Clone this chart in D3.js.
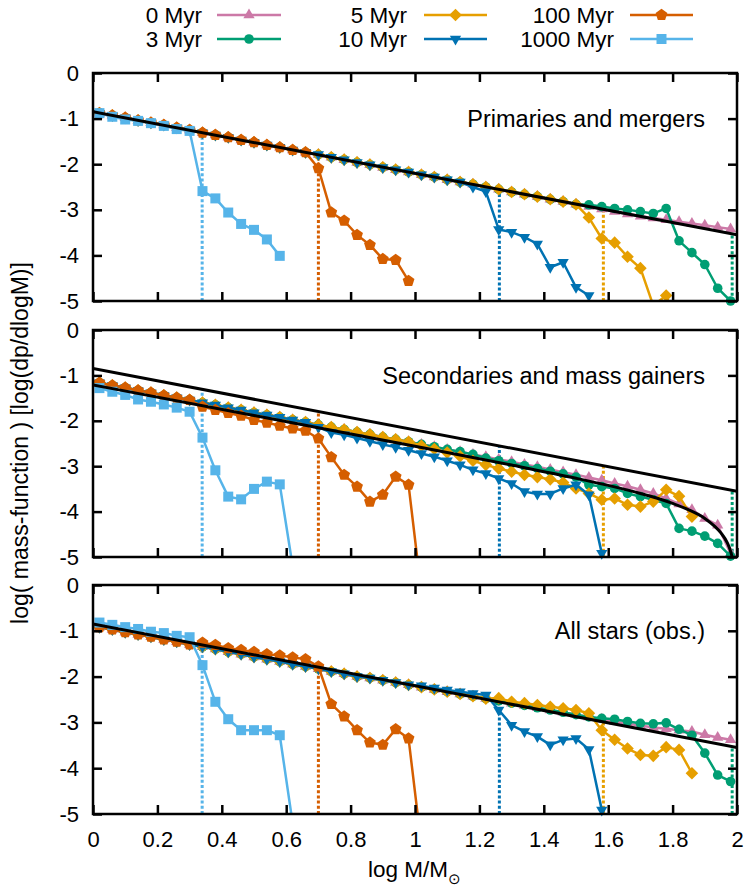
<!DOCTYPE html>
<html><head><meta charset="utf-8">
<script src="https://cdn.jsdelivr.net/npm/d3@7"></script>
<style>body{margin:0;background:#fff} text{font-family:"Liberation Sans",Arial,sans-serif;fill:#000}</style>
</head><body><svg id="c" width="748" height="891"></svg>
<script>
// ---------- data ----------
const logM = [0.02,0.06,0.10,0.14,0.18,0.22,0.26,0.30,0.34,0.38,0.42,0.46,0.50,0.54,0.58,0.62,0.66,0.70,0.74,0.78,0.82,0.86,0.90,0.94,0.98,1.02,1.06,1.10,1.14,1.18,1.22,1.26,1.30,1.34,1.38,1.42,1.46,1.50,1.54,1.58,1.62,1.66,1.70,1.74,1.78,1.82,1.86,1.90,1.94,1.98];
const seriesNames = ["0 Myr","3 Myr","5 Myr","10 Myr","100 Myr","1000 Myr"];

// Primaries and mergers
const prim_0 = [-0.88,-0.93,-0.98,-1.04,-1.09,-1.14,-1.20,-1.25,-1.31,-1.36,-1.41,-1.47,-1.52,-1.58,-1.63,-1.69,-1.74,-1.79,-1.85,-1.90,-1.96,-2.01,-2.07,-2.12,-2.17,-2.23,-2.28,-2.34,-2.39,-2.44,-2.50,-2.55,-2.61,-2.66,-2.71,-2.77,-2.82,-2.88,-2.93,-2.98,-3.04,-3.09,-3.14,-3.18,-3.22,-3.26,-3.30,-3.34,-3.38,-3.42];
const prim_3 = [-0.88,-0.93,-0.98,-1.04,-1.09,-1.14,-1.20,-1.25,-1.31,-1.36,-1.41,-1.47,-1.52,-1.58,-1.63,-1.69,-1.74,-1.79,-1.85,-1.90,-1.96,-2.01,-2.07,-2.12,-2.17,-2.23,-2.28,-2.34,-2.39,-2.44,-2.50,-2.55,-2.61,-2.66,-2.71,-2.77,-2.82,-2.88,-2.89,-2.93,-2.97,-3.00,-3.04,-3.08,-2.97,-3.68,-3.94,-4.20,-4.72,-5.00];
const prim_5 = [-0.88,-0.93,-0.98,-1.04,-1.09,-1.14,-1.20,-1.25,-1.31,-1.36,-1.41,-1.47,-1.52,-1.58,-1.63,-1.69,-1.74,-1.79,-1.85,-1.90,-1.96,-2.01,-2.07,-2.12,-2.17,-2.23,-2.28,-2.34,-2.39,-2.44,-2.50,-2.55,-2.61,-2.66,-2.71,-2.77,-2.82,-2.88,-3.17,-3.63,-3.72,-4.03,-4.28,-5.10,-4.88,-5.60];
const prim_10 = [-0.88,-0.93,-0.98,-1.04,-1.09,-1.14,-1.20,-1.25,-1.31,-1.36,-1.41,-1.47,-1.52,-1.58,-1.63,-1.69,-1.74,-1.79,-1.85,-1.90,-1.96,-2.01,-2.07,-2.12,-2.17,-2.23,-2.28,-2.34,-2.39,-2.50,-2.60,-3.43,-3.49,-3.60,-3.75,-4.26,-4.15,-4.70,-4.88];
const prim_100 = [-0.88,-0.93,-0.98,-1.04,-1.09,-1.14,-1.20,-1.25,-1.31,-1.36,-1.41,-1.47,-1.52,-1.58,-1.63,-1.69,-1.74,-2.09,-3.06,-3.24,-3.55,-3.77,-4.08,-4.10,-4.56];
const prim_1000 = [-0.88,-0.96,-1.02,-1.05,-1.10,-1.16,-1.23,-1.27,-2.59,-2.75,-3.06,-3.31,-3.44,-3.65,-4.01];

// Secondaries and mass gainers
const sec_0 = [-1.16,-1.22,-1.27,-1.33,-1.38,-1.44,-1.49,-1.54,-1.60,-1.65,-1.71,-1.76,-1.82,-1.87,-1.92,-1.98,-2.03,-2.09,-2.14,-2.19,-2.25,-2.30,-2.36,-2.41,-2.46,-2.52,-2.57,-2.63,-2.68,-2.74,-2.79,-2.85,-2.90,-2.96,-3.01,-3.07,-3.13,-3.19,-3.25,-3.31,-3.38,-3.44,-3.52,-3.60,-3.71,-3.83,-3.96,-4.15,-4.30,-4.92];
const sec_3 = [-1.16,-1.22,-1.27,-1.33,-1.38,-1.44,-1.49,-1.54,-1.60,-1.65,-1.71,-1.76,-1.82,-1.87,-1.92,-1.98,-2.03,-2.09,-2.14,-2.19,-2.25,-2.30,-2.36,-2.41,-2.46,-2.52,-2.57,-2.63,-2.68,-2.74,-2.82,-2.88,-2.94,-2.99,-3.05,-3.11,-3.17,-3.24,-3.41,-3.45,-3.49,-3.60,-3.67,-3.74,-3.82,-4.37,-4.43,-4.54,-4.70,-4.98];
const sec_5 = [-1.16,-1.22,-1.27,-1.33,-1.38,-1.44,-1.49,-1.54,-1.60,-1.65,-1.71,-1.76,-1.82,-1.87,-1.92,-1.98,-2.03,-2.09,-2.14,-2.19,-2.25,-2.30,-2.36,-2.41,-2.46,-2.55,-2.62,-2.70,-2.78,-2.88,-2.97,-3.05,-3.12,-3.19,-3.24,-3.29,-3.36,-3.49,-3.60,-3.74,-3.71,-3.85,-3.89,-3.78,-3.52,-3.66,-4.11];
const sec_10 = [-1.16,-1.22,-1.27,-1.33,-1.38,-1.44,-1.49,-1.54,-1.60,-1.65,-1.71,-1.76,-1.82,-1.87,-1.92,-1.98,-2.03,-2.14,-2.26,-2.31,-2.38,-2.45,-2.52,-2.58,-2.65,-2.72,-2.79,-2.88,-2.97,-3.08,-3.16,-3.27,-3.38,-3.56,-3.61,-3.61,-3.49,-3.41,-3.63,-4.92];
const sec_100 = [-1.16,-1.22,-1.27,-1.33,-1.38,-1.44,-1.49,-1.54,-1.69,-1.76,-1.83,-1.89,-1.98,-2.04,-2.11,-2.17,-2.22,-2.39,-2.80,-3.19,-3.45,-3.78,-3.63,-3.23,-3.41,-5.80];
const sec_1000 = [-1.28,-1.36,-1.43,-1.53,-1.58,-1.64,-1.71,-1.80,-2.37,-3.09,-3.67,-3.73,-3.50,-3.34,-3.40,-5.20];

// All stars (obs.)
const all_0 = [-0.92,-0.97,-1.03,-1.08,-1.13,-1.19,-1.24,-1.30,-1.35,-1.40,-1.46,-1.51,-1.57,-1.62,-1.67,-1.73,-1.78,-1.83,-1.89,-1.94,-2.00,-2.03,-2.08,-2.13,-2.18,-2.23,-2.28,-2.33,-2.38,-2.43,-2.48,-2.53,-2.58,-2.63,-2.68,-2.73,-2.78,-2.83,-2.88,-2.93,-2.98,-3.03,-3.07,-3.11,-3.14,-3.17,-3.20,-3.27,-3.33,-3.38];
const all_3 = [-0.92,-0.97,-1.03,-1.08,-1.13,-1.19,-1.24,-1.30,-1.35,-1.40,-1.46,-1.51,-1.57,-1.62,-1.67,-1.73,-1.78,-1.83,-1.89,-1.94,-2.00,-2.03,-2.08,-2.13,-2.18,-2.23,-2.28,-2.33,-2.38,-2.43,-2.48,-2.53,-2.58,-2.63,-2.68,-2.73,-2.78,-2.83,-2.88,-2.91,-2.93,-2.98,-3.02,-3.03,-3.01,-3.15,-3.28,-3.67,-4.15,-4.29];
const all_5 = [-0.92,-0.97,-1.03,-1.08,-1.13,-1.19,-1.24,-1.30,-1.35,-1.40,-1.46,-1.51,-1.57,-1.62,-1.67,-1.73,-1.78,-1.83,-1.89,-1.94,-2.00,-2.03,-2.08,-2.13,-2.18,-2.23,-2.28,-2.33,-2.38,-2.43,-2.48,-2.47,-2.55,-2.58,-2.62,-2.66,-2.69,-2.73,-2.80,-3.17,-3.38,-3.57,-3.71,-3.73,-3.54,-3.60,-4.11];
const all_10 = [-0.92,-0.97,-1.03,-1.08,-1.13,-1.19,-1.24,-1.30,-1.35,-1.40,-1.46,-1.51,-1.57,-1.62,-1.67,-1.73,-1.78,-1.83,-1.89,-1.94,-2.00,-2.03,-2.08,-2.13,-2.18,-2.20,-2.25,-2.29,-2.33,-2.37,-2.40,-2.73,-3.06,-3.20,-3.31,-3.49,-3.38,-3.35,-3.59,-4.91];
const all_100 = [-0.92,-0.97,-1.03,-1.08,-1.13,-1.19,-1.24,-1.30,-1.26,-1.31,-1.38,-1.42,-1.46,-1.51,-1.54,-1.58,-1.62,-1.78,-2.60,-2.87,-3.17,-3.44,-3.49,-3.15,-3.35,-5.70];
const all_1000 = [-0.82,-0.87,-0.92,-0.96,-1.02,-1.05,-1.11,-1.14,-1.75,-2.55,-2.93,-3.17,-3.17,-3.17,-3.28,-5.20];

// reference power law and secondary-star curve
const refLineX = [0, 2];
const refLineY = [-0.85, -3.55];
const secCurveX = [0, 0.5, 1.0, 1.3, 1.5, 1.6, 1.7, 1.75, 1.8, 1.85, 1.9, 1.93, 1.95, 1.97, 1.98, 1.985];
const secCurveY = [-1.21, -1.885, -2.562, -2.975, -3.265, -3.423, -3.60, -3.70, -3.82, -3.96, -4.15, -4.32, -4.47, -4.69, -4.87, -5.0];

// turn-off masses (dotted verticals): series index, logM, top value
const turnSeries = [5, 4, 3, 2, 1];
const turnLogM = [0.339, 0.70, 1.262, 1.585, 1.985];
const turnTop = [-1.31, -1.80, -2.55, -2.99, -3.53];

const xTicks = [0,0.2,0.4,0.6,0.8,1,1.2,1.4,1.6,1.8,2];
const xTickLabels = ["0","0.2","0.4","0.6","0.8","1","1.2","1.4","1.6","1.8","2"];
const yTicks = [0,-1,-2,-3,-4,-5];
const yTickLabels = ["0","-1","-2","-3","-4","-5"];
const panelLabels = ["Primaries and mergers","Secondaries and mass gainers","All stars (obs.)"];

// ---------- styling ----------
const colors = ["#cc79a7","#009e73","#e69f00","#0072b2","#d55e00","#56b4e9"];
const markers = ["triUp","circle","diamond","triDown","pentagon","square"];

function markerPath(type){
  const p = d3.path();
  if(type==="circle"){ p.arc(0,0,4.8,0,2*Math.PI); return p.toString(); }
  let pts;
  if(type==="triUp"){ const r=6.5; pts=[[0,-r],[r*0.866,r*0.5],[-r*0.866,r*0.5]]; }
  else if(type==="triDown"){ const r=6.5; pts=[[0,r],[r*0.866,-r*0.5],[-r*0.866,-r*0.5]]; }
  else if(type==="diamond"){ const r=6.3; pts=[[0,-r],[r,0],[0,r],[-r,0]]; }
  else if(type==="square"){ const r=5; pts=[[-r,-r],[r,-r],[r,r],[-r,r]]; }
  else if(type==="pentagon"){ const r=6.2; pts=d3.range(5).map(i=>{const a=-Math.PI/2+i*2*Math.PI/5;return [r*Math.cos(a),r*Math.sin(a)];}); }
  p.moveTo(pts[0][0],pts[0][1]); for(let i=1;i<pts.length;i++) p.lineTo(pts[i][0],pts[i][1]); p.closePath();
  return p.toString();
}

const svg = d3.select("#c");
const x = d3.scaleLinear().domain([0,2]).range([93,737]);
const FONT = "Liberation Sans, Arial, sans-serif";
const tickFont = "22px", labelFont = "23.5px", legendFont = "22.5px", titleFont = "22.5px";

const panels = [
  {top:73,  bottom:301, data:[prim_0,prim_3,prim_5,prim_10,prim_100,prim_1000], sec:false},
  {top:330, bottom:557, data:[sec_0,sec_3,sec_5,sec_10,sec_100,sec_1000], sec:true},
  {top:585, bottom:814, data:[all_0,all_3,all_5,all_10,all_100,all_1000], sec:false}
];

panels.forEach((P,pi)=>{
  const y = d3.scaleLinear().domain([-5,0]).range([P.bottom,P.top]);
  const g = svg.append("g");
  const cid = "clip"+pi;
  svg.append("defs").append("clipPath").attr("id",cid).append("rect")
    .attr("x",x(0)).attr("y",P.top).attr("width",x(2)-x(0)).attr("height",P.bottom-P.top);

  // dotted turn-off lines
  turnLogM.forEach((t,i)=>{
    g.append("line").attr("x1",x(t)).attr("x2",x(t)).attr("y1",y(-5)).attr("y2",y(turnTop[i]))
      .attr("stroke",colors[turnSeries[i]]).attr("stroke-width",3).attr("stroke-dasharray","3,2.2");
  });

  const line = d3.line().x(d=>x(d[0])).y(d=>y(d[1]));
  P.data.forEach((vals,si)=>{
    const pts = vals.map((v,k)=>[logM[k],v]);
    g.append("path").attr("d",line(pts)).attr("fill","none").attr("stroke",colors[si])
      .attr("stroke-width",2.5).attr("stroke-linejoin","round").attr("clip-path",`url(#${cid})`);
    g.selectAll(null).data(pts.filter(d=>d[1]>=-5.001)).enter().append("path")
      .attr("d",markerPath(markers[si])).attr("fill",colors[si])
      .attr("transform",d=>`translate(${x(d[0])},${y(d[1])})`);
  });

  // reference lines
  g.append("path").attr("d",line(refLineX.map((v,i)=>[v,refLineY[i]]))).attr("fill","none")
    .attr("stroke","#000").attr("stroke-width",3).attr("clip-path",`url(#${cid})`);
  if(P.sec){
    const cl = d3.line().x(d=>x(d[0])).y(d=>y(d[1])).curve(d3.curveMonotoneX);
    g.append("path").attr("d",cl(secCurveX.map((v,i)=>[v,secCurveY[i]]))).attr("fill","none")
      .attr("stroke","#000").attr("stroke-width",3).attr("clip-path",`url(#${cid})`);
  }

  // axes (inward ticks on all sides)
  g.append("g").attr("transform",`translate(0,${P.bottom})`)
    .call(d3.axisBottom(x).tickValues(xTicks).tickSize(-9).tickPadding(17)
      .tickFormat((d,i)=> pi===2 ? xTickLabels[i] : ""));
  g.append("g").attr("transform",`translate(0,${P.top})`)
    .call(d3.axisTop(x).tickValues(xTicks).tickSize(-9).tickFormat(""));
  g.append("g").attr("transform",`translate(${x(0)},0)`)
    .call(d3.axisLeft(y).tickValues(yTicks).tickSize(-9).tickPadding(14)
      .tickFormat((d,i)=>yTickLabels[i]));
  g.append("g").attr("transform",`translate(${x(2)},0)`)
    .call(d3.axisRight(y).tickValues(yTicks).tickSize(-9).tickFormat(""));
  g.selectAll(".domain").remove();
  g.selectAll(".tick line").attr("stroke","#000").attr("stroke-width",2.5);
  g.selectAll(".tick text").style("font-size",tickFont).style("font-family",FONT);
  g.append("rect").attr("x",x(0)).attr("y",P.top).attr("width",x(2)-x(0)).attr("height",P.bottom-P.top)
    .attr("fill","none").attr("stroke","#000").attr("stroke-width",2.5);

  g.append("text").attr("x",705).attr("y",P.top+54).attr("text-anchor","end")
    .style("font-size",labelFont).text(panelLabels[pi]);
});

// axis titles
const xt = svg.append("text").attr("x",368).attr("y",877).attr("text-anchor","start").style("font-size",titleFont);
xt.append("tspan").text("log M/M");
xt.append("tspan").attr("dy",7).style("font-size","15px").text("\u2299");
svg.append("text").attr("transform","translate(28,443) rotate(-90)").attr("text-anchor","middle")
  .style("font-size","23px").text("log( mass-function ) [log(dp/dlogM)]");

// legend
const legCols = [{textEnd:202,x1:217,x2:281},{textEnd:407,x1:424,x2:487},{textEnd:614,x1:630,x2:693}];
const legRows = [15,39];
const legOrder = [[0,0,0],[1,0,1],[2,1,0],[3,1,1],[4,2,0],[5,2,1]]; // series, col, row
legOrder.forEach(([si,ci,ri])=>{
  const c = legCols[ci], yy = legRows[ri];
  svg.append("text").attr("x",c.textEnd).attr("y",yy+8).attr("text-anchor","end").style("font-size",legendFont).text(seriesNames[si]);
  svg.append("line").attr("x1",c.x1).attr("x2",c.x2).attr("y1",yy).attr("y2",yy).attr("stroke",colors[si]).attr("stroke-width",2.5);
  svg.append("path").attr("d",markerPath(markers[si])).attr("fill",colors[si]).attr("transform",`translate(${(c.x1+c.x2)/2},${yy})`);
});
</script></body></html>
